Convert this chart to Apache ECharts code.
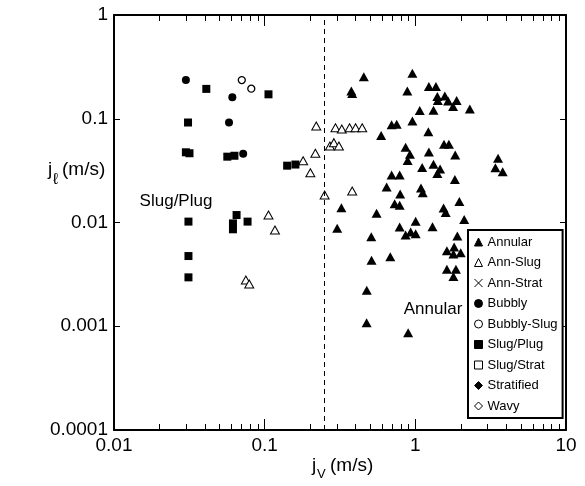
<!DOCTYPE html>
<html>
<head>
<meta charset="utf-8">
<script src="https://cdn.jsdelivr.net/npm/echarts@6/dist/echarts.min.js"></script>
<style>
  html, body { margin: 0; padding: 0; background: #fff; }
  #chart { width: 585px; height: 486px; }
</style>
</head>
<body>
<div id="chart"></div>
<script>
// Flow-regime observations: [j_v (m/s), j_l (m/s)]
const annular = [
  [0.455, 0.254], [0.376, 0.185], [0.381, 0.175], [0.956, 0.274], [0.885, 0.185],
  [1.23, 0.205], [1.37, 0.205], [1.40, 0.164], [1.57, 0.166], [1.41, 0.150],
  [1.65, 0.148], [1.88, 0.150], [1.78, 0.131], [2.30, 0.124], [1.07, 0.120],
  [1.32, 0.121], [0.696, 0.0876], [0.752, 0.0884], [0.956, 0.0951], [0.593, 0.069],
  [1.22, 0.075], [0.862, 0.0531], [0.921, 0.0455], [0.889, 0.0396], [1.23, 0.0478],
  [1.55, 0.0567], [1.67, 0.0567], [1.84, 0.0447], [1.11, 0.0339], [1.32, 0.0365],
  [1.46, 0.0328], [1.40, 0.0297], [0.696, 0.0287], [0.787, 0.0287], [1.83, 0.026],
  [3.54, 0.0416], [3.40, 0.0337], [3.80, 0.0308], [0.645, 0.022], [0.793, 0.0188],
  [1.09, 0.0215], [1.12, 0.0193], [1.96, 0.0159], [0.323, 0.0139], [0.553, 0.0123],
  [0.729, 0.0152], [0.787, 0.0147], [1.54, 0.0138], [1.59, 0.0125], [2.11, 0.0107],
  [0.303, 0.0088], [1.005, 0.0103], [0.787, 0.00905], [0.931, 0.0081], [0.862, 0.00758],
  [1.005, 0.0078], [1.30, 0.0091], [0.510, 0.0073], [1.90, 0.0074], [1.62, 0.00535],
  [1.81, 0.0058], [1.79, 0.00497], [2.00, 0.00511], [0.512, 0.00432], [0.682, 0.00468],
  [1.62, 0.00354], [1.86, 0.00354], [1.79, 0.00302], [0.476, 0.00222], [0.475, 0.00108],
  [0.896, 0.000866]
];
const annSlug = [
  [0.22, 0.0851], [0.295, 0.082], [0.325, 0.0796], [0.366, 0.082], [0.401, 0.082],
  [0.444, 0.082], [0.271, 0.0546], [0.288, 0.0588], [0.311, 0.0546], [0.217, 0.0465],
  [0.18, 0.0394], [0.201, 0.0302], [0.25, 0.0184], [0.381, 0.0201], [0.106, 0.0118],
  [0.117, 0.00847], [0.075, 0.00279], [0.079, 0.00255]
];
const annStrat = [];
const bubbly = [[0.030, 0.236], [0.061, 0.161], [0.058, 0.092], [0.072, 0.046]];
const bubblySlug = [[0.0705, 0.236], [0.0815, 0.195]];
const slugPlug = [
  [0.041, 0.194], [0.106, 0.172], [0.031, 0.092], [0.030, 0.0475], [0.0317, 0.0465],
  [0.0565, 0.0431], [0.063, 0.044], [0.141, 0.0353], [0.160, 0.0362], [0.0312, 0.0102],
  [0.0651, 0.0118], [0.0616, 0.0098], [0.0616, 0.0086], [0.077, 0.0102],
  [0.0312, 0.00475], [0.0312, 0.00296]
];
const slugStrat = [];
const stratified = [];
const wavy = [];

const regimeNames = ['Annular', 'Ann-Slug', 'Ann-Strat', 'Bubbly', 'Bubbly-Slug',
                     'Slug/Plug', 'Slug/Strat', 'Stratified', 'Wavy'];
const transitionJv = 0.25;          // dashed regime boundary
const xRange = [0.01, 10];
const yRange = [0.0001, 1];
const minorSteps = [2, 3, 4, 5, 6, 7, 8, 9];
const xDecades = [0.01, 0.1, 1];

const FONT = '"Liberation Sans", Arial, Helvetica, sans-serif';
const GRID = { left: 114, right: 19, top: 15, bottom: 56 };

const chart = echarts.init(document.getElementById('chart'), null, { renderer: 'canvas' });

function logAxis(range, pos, showLabels, tickLen) {
  return {
    type: 'log', logBase: 10, min: range[0], max: range[1], position: pos,
    axisLine: { show: true, onZero: false, lineStyle: { color: '#000', width: 2 } },
    axisTick: { show: true, inside: true, length: tickLen, lineStyle: { color: '#000', width: 1 } },
    axisLabel: {
      show: showLabels, color: '#000', fontFamily: FONT, fontSize: 19, margin: 6,
      formatter: v => String(+v.toPrecision(6))
    },
    splitLine: { show: false }
  };
}

function scatter(name, data, symbol, size, fill, border) {
  return {
    name, type: 'scatter', data, symbol, symbolSize: size,
    itemStyle: { color: fill, borderColor: '#000', borderWidth: border, opacity: 1 },
    emphasis: { disabled: true }, silent: true, z: 3
  };
}

const crossPath = 'path://M0,0L8,8M8,0L0,8';

const series = [
  scatter('Annular', annular, 'triangle', [10, 9], '#000', 0),
  scatter('Ann-Slug', annSlug, 'triangle', [9, 8], '#fff', 1),
  scatter('Ann-Strat', annStrat, crossPath, 6, 'none', 1.3),
  scatter('Bubbly', bubbly, 'circle', 8, '#000', 0),
  scatter('Bubbly-Slug', bubblySlug, 'circle', 7, '#fff', 1.3),
  scatter('Slug/Plug', slugPlug, 'rect', 8, '#000', 0),
  scatter('Slug/Strat', slugStrat, 'rect', 6, '#fff', 1.2),
  scatter('Stratified', stratified, 'diamond', 9, '#000', 0),
  scatter('Wavy', wavy, 'diamond', 9, '#fff', 1.2)
];

// vertical dashed boundary line
series[0].markLine = {
  silent: true, symbol: ['none', 'none'], label: { show: false },
  lineStyle: { color: '#000', width: 1, type: [5, 4] },
  emphasis: { disabled: true },
  data: [{ xAxis: transitionJv }]
};

chart.setOption({
  animation: false,
  backgroundColor: '#fff',
  grid: GRID,
  xAxis: [
    logAxis(xRange, 'bottom', true, 11),
    logAxis(xRange, 'top', false, 11)
  ],
  yAxis: [
    logAxis(yRange, 'left', true, 6),
    logAxis(yRange, 'right', false, 6)
  ],
  legend: {
    data: regimeNames,
    orient: 'vertical',
    left: 468, top: 230,
    padding: [4, 5, 4, 4],
    itemGap: 4.5,
    itemWidth: 8, itemHeight: 8,
    borderColor: '#000', borderWidth: 2, borderRadius: 0,
    backgroundColor: '#fff',
    selectedMode: false,
    itemStyle: { borderWidth: 1 },
    textStyle: { fontFamily: FONT, fontSize: 13, color: '#000', lineHeight: 16 }
  },
  series
});

// minor ticks at 2..9 of each decade on bottom and top axes
const yBottom = 486 - GRID.bottom, yTop = GRID.top;
const graphics = [];
xDecades.forEach(d => minorSteps.forEach(m => {
  const x = Math.round(chart.convertToPixel({ xAxisIndex: 0 }, m * d)) + 0.5;
  graphics.push({ type: 'line', silent: true, z: 10,
    shape: { x1: x, y1: yBottom, x2: x, y2: yBottom - 6 }, style: { stroke: '#000', lineWidth: 1 } });
  graphics.push({ type: 'line', silent: true, z: 10,
    shape: { x1: x, y1: yTop, x2: x, y2: yTop + 6 }, style: { stroke: '#000', lineWidth: 1 } });
}));

function txt(text, x, y, size, align) {
  return { type: 'text', x, y, silent: true, z: 10,
    style: { text, fontFamily: FONT, fontSize: size, fill: '#000',
             align: align || 'left', verticalAlign: 'middle' } };
}

// axis titles with subscripts
graphics.push(txt('j', 48, 170, 19));
graphics.push(txt('\u2113', 53, 180, 16));
graphics.push(txt('(m/s)', 62, 170, 19));
graphics.push(txt('j', 312, 466, 19));
graphics.push(txt('V', 317, 474, 13));
graphics.push(txt('(m/s)', 330, 466, 19));

// regime annotations
graphics.push(txt('Slug/Plug', 176, 201, 17, 'center'));
graphics.push(txt('Annular', 433, 309, 17, 'center'));

chart.setOption({ graphic: graphics });
</script>
</body>
</html>
